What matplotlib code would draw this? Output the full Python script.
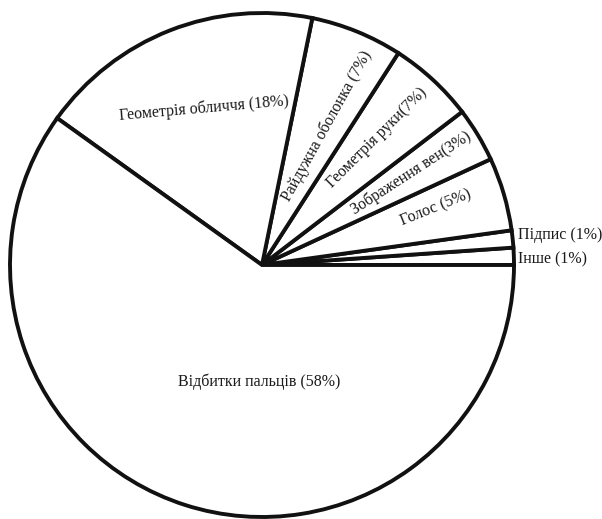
import matplotlib.pyplot as plt

# slices counterclockwise from 3 o'clock, sizes
names = ['Інше', 'Підпис', 'Голос', 'Зображення вен', 'Геометрія руки',
         'Райдужна оболонка', 'Геометрія обличчя', 'Відбитки пальців']
sizes = [1.1, 1.1, 4.7, 3.5, 5.5, 5.9, 18.3, 59.9]
labels = ['Інше (1%)', 'Підпис (1%)', 'Голос (5%)', 'Зображення вен(3%)',
          'Геометрія руки(7%)', 'Райдужна оболонка (7%)',
          'Геометрія обличчя (18%)', 'Відбитки пальців (58%)']

plt.rcParams['font.family'] = ['Liberation Serif', 'DejaVu Serif']

fig = plt.figure(figsize=(6.02, 5.19), dpi=100)
ax = fig.add_axes([0, 0, 1, 1])
H = 519

ax.pie(sizes, startangle=0, counterclock=True, center=(262, H - 265), radius=252,
       colors=['white'] * len(sizes),
       wedgeprops=dict(edgecolor='#111111', linewidth=2.8))

txt = dict(fontsize=11.5, color='#1a1a1a', ha='center', va='center', rotation_mode='anchor')
side = dict(fontsize=11.5, color='#1a1a1a', ha='left', va='center')

# label positions (px from top) and rotations
ax.text(518, H - 259, labels[0], **side)
ax.text(518, H - 235, labels[1], **side)
ax.text(436, H - 208, labels[2], rotation=22, **txt)
ax.text(411, H - 173, labels[3], rotation=33, **txt)
ax.text(377, H - 138, labels[4], rotation=45, **txt)
ax.text(327, H - 126, labels[5], rotation=61, **txt)
ax.text(204, H - 108, labels[6], rotation=5, **txt)
ax.text(259, H - 382, labels[7], **txt)

ax.set_xlim(0, 602)
ax.set_ylim(0, H)
ax.set_aspect('auto')
ax.axis('off')

plt.savefig('out.png', dpi=100)
